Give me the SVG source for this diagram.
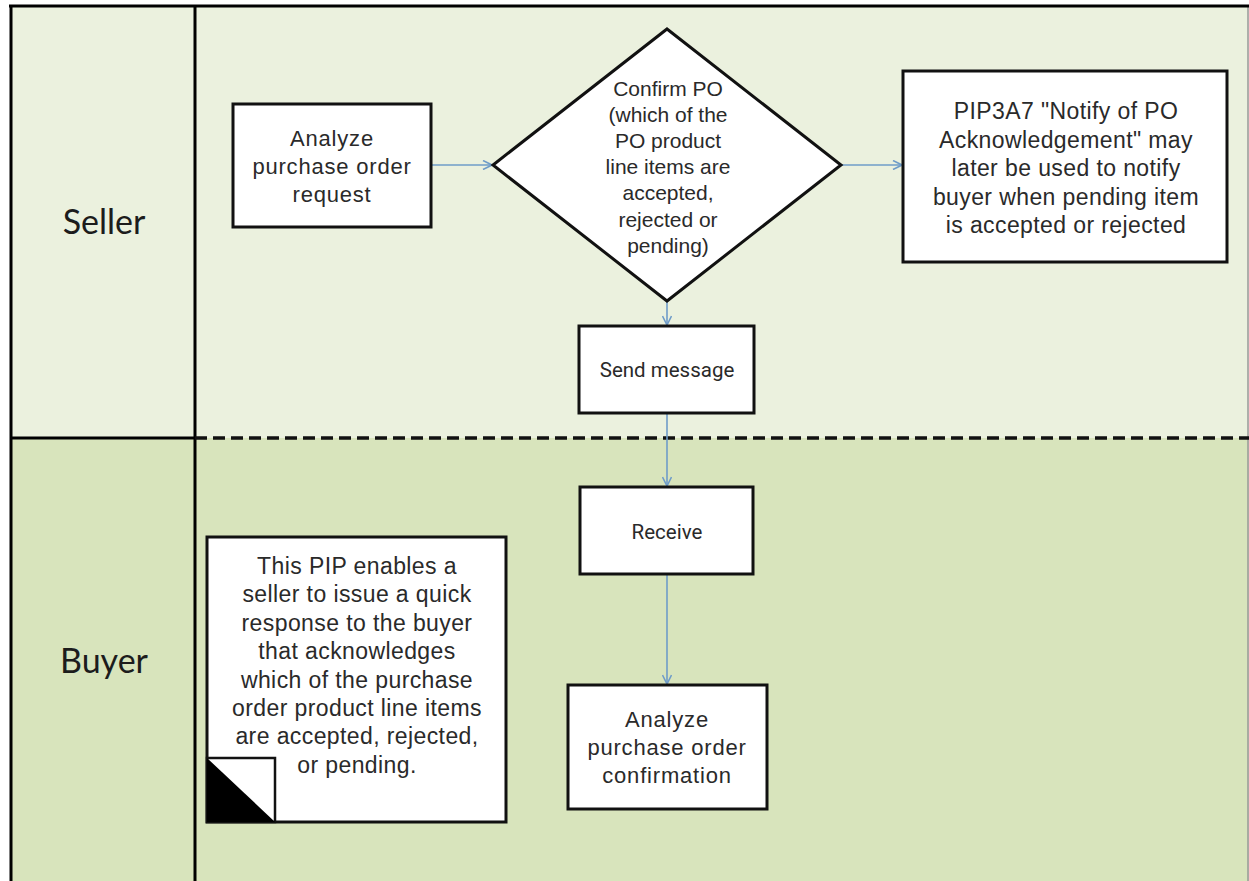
<svg xmlns="http://www.w3.org/2000/svg" width="1249" height="881" viewBox="0 0 1249 881">
<defs>
<style>
.box{fill:#fff;stroke:#111;stroke-width:3}
.t{font-family:"Liberation Sans",Arial,sans-serif;fill:#2a2a2a;text-anchor:middle}
.t22{font-size:22px;letter-spacing:0.8px}
.t21{font-size:21px}
.t23{font-size:23px;letter-spacing:0.4px}
.lane{font-family:Lato,"Open Sans",sans-serif;font-size:34px;fill:#1c1c1c;text-anchor:middle}
.msg{font-family:Roboto,"Liberation Sans",sans-serif;font-size:20.5px;fill:#2a2a2a;text-anchor:middle}
.conn{stroke:#6f9cc8;stroke-width:1.6;fill:none}
.frame{stroke:#000;stroke-width:3;fill:none}
</style>
<marker id="arr" viewBox="0 0 10 10" refX="10" refY="5" markerWidth="10" markerHeight="10" markerUnits="userSpaceOnUse" orient="auto">
<path d="M1,0.5 L10,5 L1,9.5" fill="none" stroke="#6f9cc8" stroke-width="1.6"/>
</marker>
</defs>
<rect x="0" y="0" width="1249" height="881" fill="#fff"/>
<g id="lanes">
<rect x="11" y="6" width="1238" height="432" fill="#ebf1de"/>
<rect x="11" y="438" width="1238" height="443" fill="#d8e4bc"/>
<line x1="1248" y1="6" x2="1248" y2="881" stroke="#999" stroke-width="1.5"/>
<line class="frame" x1="9" y1="6" x2="1249" y2="6"/>
<line class="frame" x1="11" y1="6" x2="11" y2="881"/>
<line class="frame" x1="195" y1="6" x2="195" y2="881"/>
<line class="frame" x1="11" y1="438" x2="195" y2="438"/>
<line x1="195" y1="438" x2="1249" y2="438" stroke="#111" stroke-width="3.5" stroke-dasharray="12,6"/>
<text class="lane" x="104" y="234">Seller</text>
<text class="lane" x="104" y="673">Buyer</text>
</g>
<g id="connectors">
<line class="conn" x1="432" y1="165" x2="492" y2="165" marker-end="url(#arr)"/>
<line class="conn" x1="842" y1="165" x2="902" y2="165" marker-end="url(#arr)"/>
<line class="conn" x1="667" y1="302" x2="667" y2="325" marker-end="url(#arr)"/>
<line class="conn" x1="667" y1="414" x2="667" y2="486" marker-end="url(#arr)"/>
<line class="conn" x1="667" y1="575" x2="667" y2="684" marker-end="url(#arr)"/>
</g>
<g id="analyze-request">
<rect class="box" x="233" y="104" width="198" height="123"/>
<text class="t t22" x="332" y="146">Analyze</text>
<text class="t t22" x="332" y="174">purchase order</text>
<text class="t t22" x="332" y="202">request</text>
</g>
<g id="confirm-po">
<polygon class="box" points="667,29 841,165 667,301 493,165"/>
<text class="t t21" x="668" y="96">Confirm PO</text>
<text class="t t21" x="668" y="122">(which of the</text>
<text class="t t21" x="668" y="148">PO product</text>
<text class="t t21" x="668" y="174">line items are</text>
<text class="t t21" x="668" y="200">accepted,</text>
<text class="t t21" x="668" y="227">rejected or</text>
<text class="t t21" x="668" y="253">pending)</text>
</g>
<g id="pip3a7-note">
<rect class="box" x="903" y="71" width="324" height="191"/>
<text class="t t23" x="1066" y="119">PIP3A7 "Notify of PO</text>
<text class="t t23" x="1066" y="147.5">Acknowledgement" may</text>
<text class="t t23" x="1066" y="176">later be used to notify</text>
<text class="t t23" x="1066" y="204.5">buyer when pending item</text>
<text class="t t23" x="1066" y="233">is accepted or rejected</text>
</g>
<g id="send-message">
<rect class="box" x="579" y="326" width="175" height="87"/>
<text class="msg" x="667" y="377">Send message</text>
</g>
<g id="receive">
<rect class="box" x="580" y="487" width="173" height="87"/>
<text class="msg" x="667" y="539">Receive</text>
</g>
<g id="analyze-confirmation">
<rect class="box" x="568" y="685" width="199" height="124"/>
<text class="t t22" x="667" y="727">Analyze</text>
<text class="t t22" x="667" y="755">purchase order</text>
<text class="t t22" x="667" y="783">confirmation</text>
</g>
<g id="pip-description">
<rect class="box" x="207" y="537" width="299" height="285"/>
<rect x="207" y="758" width="68" height="64" fill="#fff" stroke="#111" stroke-width="2.5"/>
<polygon points="207,758 275,822 207,822" fill="#000"/>
<text class="t t23" x="357" y="574">This PIP enables a</text>
<text class="t t23" x="357" y="602.4">seller to issue a quick</text>
<text class="t t23" x="357" y="630.8">response to the buyer</text>
<text class="t t23" x="357" y="659.2">that acknowledges</text>
<text class="t t23" x="357" y="687.6">which of the purchase</text>
<text class="t t23" x="357" y="716">order product line items</text>
<text class="t t23" x="357" y="744.4">are accepted, rejected,</text>
<text class="t t23" x="357" y="772.8">or pending.</text>
</g>
</svg>
